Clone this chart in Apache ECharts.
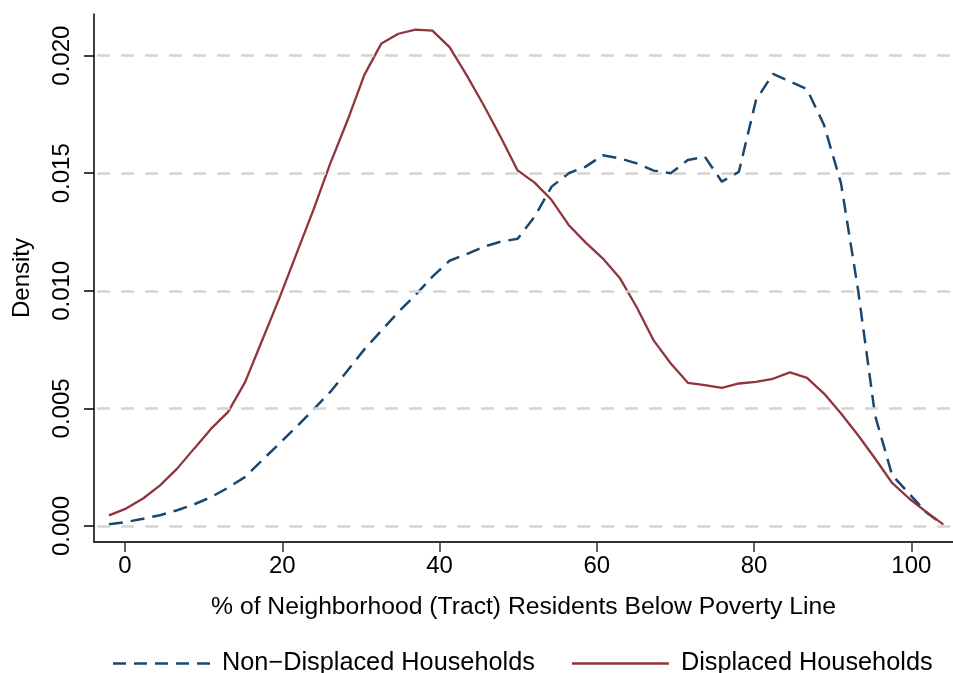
<!DOCTYPE html>
<html>
<head>
<meta charset="utf-8">
<script src="https://cdn.jsdelivr.net/npm/echarts@6/dist/echarts.min.js"></script>
<style>
html,body{margin:0;padding:0;background:#fff;}
#chart{width:953px;height:673px;}
</style>
</head>
<body>
<div id="chart"></div>
<script>
// Evaluation points (% of tract residents below poverty line)
const povertyPct = [-2.04, 0.13, 2.30, 4.46, 6.63, 8.79, 10.96, 13.12, 15.29, 17.45,
  19.62, 21.78, 23.95, 26.11, 28.28, 30.44, 32.61, 34.77, 36.94, 39.10,
  41.27, 43.43, 45.60, 47.76, 49.93, 52.09, 54.26, 56.42, 58.59, 60.75,
  62.92, 65.08, 67.25, 69.41, 71.58, 73.74, 75.91, 78.07, 80.24, 82.40,
  84.57, 86.73, 88.90, 91.06, 93.23, 95.39, 97.56, 99.72, 101.89, 104.05];

const nonDisplaced = [0.00007, 0.00017, 0.00031, 0.00046, 0.00067, 0.00092, 0.00123, 0.00163, 0.00209, 0.00280,
  0.00350, 0.00421, 0.00495, 0.00570, 0.00660, 0.00751, 0.00831, 0.00910, 0.00982, 0.01060,
  0.01128, 0.01156, 0.01187, 0.01209, 0.01221, 0.01315, 0.01443, 0.01500, 0.01528, 0.01576,
  0.01563, 0.01542, 0.01511, 0.01500, 0.01556, 0.01570, 0.01464, 0.01506, 0.01810, 0.01922,
  0.01890, 0.01857, 0.01705, 0.01457, 0.01003, 0.00470, 0.00216, 0.00138, 0.00058, 0.00005];

const displaced = [0.00045, 0.00074, 0.00117, 0.00173, 0.00244, 0.00329, 0.00414, 0.00485, 0.00613, 0.00790,
  0.00968, 0.01155, 0.01343, 0.01542, 0.01723, 0.01918, 0.02052, 0.02093, 0.02111, 0.02106,
  0.02036, 0.01918, 0.01790, 0.01655, 0.01512, 0.01460, 0.01386, 0.01280, 0.01205, 0.01138,
  0.01055, 0.00930, 0.00788, 0.00691, 0.00609, 0.00599, 0.00587, 0.00606, 0.00613, 0.00626,
  0.00653, 0.00630, 0.00563, 0.00478, 0.00386, 0.00287, 0.00183, 0.00117, 0.00060, 0.00007];

const xTicks = [0, 20, 40, 60, 80, 100];
const yTicks = [0, 0.005, 0.010, 0.015, 0.020];
const seriesNames = ['Non\u2212Displaced Households', 'Displaced Households'];

const X_MIN = -3.94, X_MAX = 105.3;
const pairs = (ys) => povertyPct.map((x, i) => [x, ys[i]]);
const FONT = 'Liberation Sans, Arial, Helvetica, sans-serif';
const BLUE = '#1a476f';
const RED = '#90353b';

// legend icons (scaled into itemWidth x itemHeight)
const dashIcon = 'path://M0,0h13v2.5h-13z M21,0h13v2.5h-13z M42,0h13v2.5h-13z M63,0h13v2.5h-13z M84,0h13v2.5h-13z';
const solidIcon = 'path://M0,0h97v2.5h-97z';

const chart = echarts.init(document.getElementById('chart'), null, {renderer: 'canvas'});
chart.setOption({
  animation: false,
  backgroundColor: '#ffffff',
  grid: {left: 94, right: 0, top: 14, bottom: 131, containLabel: false},
  xAxis: {
    type: 'value',
    min: X_MIN,
    max: X_MAX,
    name: '% of Neighborhood (Tract) Residents Below Poverty Line',
    nameLocation: 'middle',
    nameGap: 53,
    nameTextStyle: {fontFamily: FONT, fontSize: 24.7, color: '#000'},
    axisLine: {show: true, onZero: false, lineStyle: {color: '#333', width: 2}},
    axisTick: {show: true, length: 10, inside: false, customValues: xTicks, lineStyle: {color: '#333', width: 1.5}},
    axisLabel: {show: true, customValues: xTicks, margin: 12, fontFamily: FONT, fontSize: 24, color: '#000',
      formatter: (v) => String(v)},
    splitLine: {show: false}
  },
  yAxis: {
    type: 'value',
    min: -0.00068,
    max: 0.02177,
    name: 'Density',
    nameLocation: 'middle',
    nameGap: 60,
    nameRotate: 90,
    nameTextStyle: {fontFamily: FONT, fontSize: 24, color: '#000'},
    axisLine: {show: true, onZero: false, lineStyle: {color: '#000', width: 1.5}},
    axisTick: {show: true, length: 10, inside: false, customValues: yTicks, lineStyle: {color: '#000', width: 1.5}},
    axisLabel: {show: true, customValues: yTicks, rotate: 90, margin: 20, fontFamily: FONT, fontSize: 24, color: '#000',
      formatter: (v) => v.toFixed(3)},
    splitLine: {show: false}
  },
  legend: {
    show: true,
    top: 651,
    left: 113,
    padding: 0,
    data: [
      {name: seriesNames[0], icon: dashIcon, itemStyle: {color: BLUE}},
      {name: seriesNames[1], icon: solidIcon, itemStyle: {color: RED}}
    ],
    itemWidth: 97,
    itemHeight: 2.5,
    itemGap: 37,
    textStyle: {fontFamily: FONT, fontSize: 25.3, color: '#000', padding: [0, 0, 0, 7]}
  },
  series: [
    {
      type: 'line',
      name: '__grid',
      data: [],
      z: 1,
      silent: true,
      markLine: {
        silent: true,
        symbol: ['none', 'none'],
        label: {show: false},
        lineStyle: {color: '#d4d4d4', width: 2.5, type: [13, 11], opacity: 1},
        emphasis: {disabled: true},
        data: yTicks.map(v => [{coord: [X_MIN + 0.4, v]}, {coord: [X_MAX, v]}])
      }
    },
    {
      type: 'line',
      name: seriesNames[0],
      data: pairs(nonDisplaced),
      showSymbol: false,
      symbol: 'none',
      z: 3,
      itemStyle: {color: BLUE},
      lineStyle: {color: BLUE, width: 2.5, type: [14, 8]}
    },
    {
      type: 'line',
      name: seriesNames[1],
      data: pairs(displaced),
      showSymbol: false,
      symbol: 'none',
      z: 3,
      itemStyle: {color: RED},
      lineStyle: {color: RED, width: 2.3}
    }
  ]
});
</script>
</body>
</html>
